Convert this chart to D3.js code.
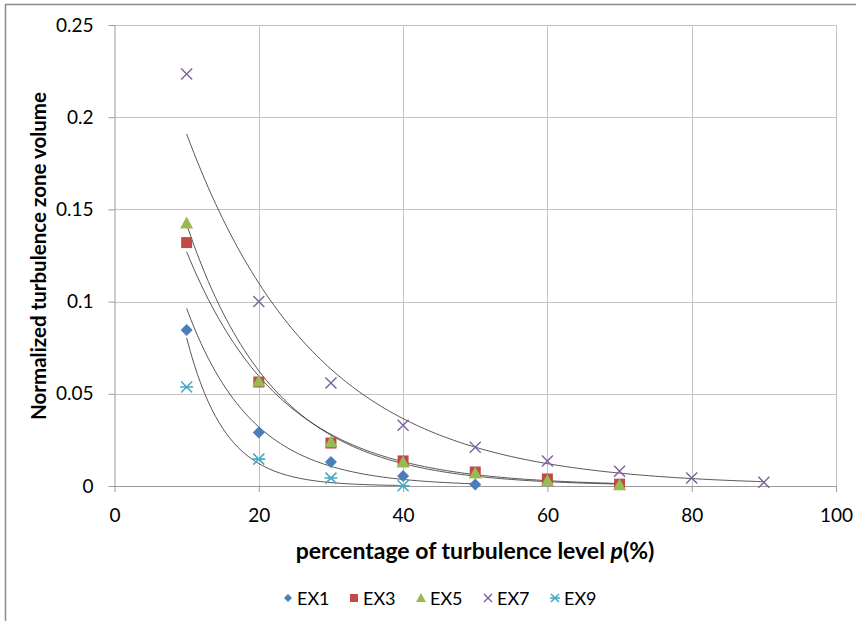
<!DOCTYPE html>
<html><head><meta charset="utf-8">
<script src="https://cdn.jsdelivr.net/npm/d3@7"></script>
<style>body{margin:0;background:#fff}svg{display:block}text{font-family:Lato,"Open Sans",sans-serif}</style>
</head><body><svg id="c" width="856" height="621"></svg>
<script>
const seriesNames = ["EX1","EX3","EX5","EX7","EX9"];
const colors = ["#4A7EBB","#BE4B48","#98B954","#7D60A0","#46AAC5"];
const ex1x = [10,20,30,40,50];
const ex1y = [0.0846,0.029,0.013,0.0054,0.0008];
const ex3x = [10,20,30,40,50,60,70];
const ex3y = [0.132,0.0564,0.0233,0.0136,0.0076,0.0038,0.001];
const ex5x = [10,20,30,40,50,60,70];
const ex5y = [0.1426,0.057,0.024,0.013,0.007,0.003,0.00073];
const ex7x = [10,20,30,40,50,60,70,80,90];
const ex7y = [0.2234,0.1,0.0559,0.033,0.021,0.0136,0.008,0.0043,0.002];
const ex9x = [10,20,30,40];
const ex9y = [0.0537,0.0146,0.0043,0.00015];
const xTicks = [0,20,40,60,80,100];
const yTicks = [0,0.05,0.1,0.15,0.2,0.25];
const yTickLabels = ["0","0.05","0.1","0.15","0.2","0.25"];

const series = [[ex1x,ex1y],[ex3x,ex3y],[ex5x,ex5y],[ex7x,ex7y],[ex9x,ex9y]].map((d,i)=>({
  name: seriesNames[i], color: colors[i], pts: d[0].map((x,j)=>({x, y:d[1][j]}))
}));

const svg = d3.select("#c");
const L=114.5, R=836, T=25, B=486;
const x = d3.scaleLinear().domain([0,100]).range([L,R]);
const y = d3.scaleLinear().domain([0,0.25]).range([B,T]);

// outer border
svg.append("path").attr("d","M5.5,621 V4.5 H856").attr("fill","none").attr("stroke","#8c8c8c").attr("stroke-width",1.5);

// gridlines
const g = svg.append("g");
g.selectAll(".vg").data(xTicks.slice(1)).enter().append("line")
  .attr("x1",d=>Math.round(x(d))+0.5).attr("x2",d=>Math.round(x(d))+0.5).attr("y1",T).attr("y2",B)
  .attr("stroke","#c4c4c4").attr("stroke-width",1);
g.selectAll(".hg").data(yTicks.slice(1)).enter().append("line")
  .attr("x1",L).attr("x2",R).attr("y1",d=>Math.round(y(d))+0.5).attr("y2",d=>Math.round(y(d))+0.5)
  .attr("stroke","#c4c4c4").attr("stroke-width",1);

// axes
const yAxis = d3.axisLeft(y).tickValues(yTicks).tickFormat((d,i)=>yTickLabels[i]).tickSize(6).tickPadding(15);
const ya = svg.append("g").attr("transform",`translate(${L},0)`).call(yAxis);
const xAxis = d3.axisBottom(x).tickValues(xTicks).tickSize(6).tickPadding(17);
const xa = svg.append("g").attr("transform",`translate(0,${B})`).call(xAxis);
[ya,xa].forEach(a=>{
  a.select(".domain").attr("stroke","#9a9a9a");
  a.selectAll(".tick line").attr("stroke","#9a9a9a");
  a.selectAll("text").attr("font-size",19).attr("fill","#000").style("font-family","Lato,'Open Sans',sans-serif");
});
ya.select(".domain").attr("d",`M0.5,${T}V${B}`);
xa.select(".domain").attr("d",`M${L},0.5H${R}`);

// trend lines (exponential least-squares fit on ln y, like a spreadsheet trendline)
function expFit(pts){
  const mx=d3.mean(pts,p=>p.x), ml=d3.mean(pts,p=>Math.log(p.y));
  let sxy=0,sxx=0; pts.forEach(p=>{sxy+=(p.x-mx)*(Math.log(p.y)-ml); sxx+=(p.x-mx)**2;});
  const b=sxy/sxx, a=ml-b*mx; return xv=>Math.exp(a+b*xv);
}
const line = d3.line().x(d=>x(d[0])).y(d=>y(d[1]));
series.forEach(s=>{
  const f=expFit(s.pts);
  const x0=d3.min(s.pts,p=>p.x), x1=d3.max(s.pts,p=>p.x);
  const xs=d3.range(x0,x1+0.001,0.5);
  svg.append("path").datum(xs.map(v=>[v,f(v)])).attr("d",line)
    .attr("fill","none").attr("stroke","#3a3a3a").attr("stroke-width",1).attr("opacity",0.85);
});

// markers
function marker(sel, i, color, s){
  if(i===0){ sel.append("path").attr("d",`M0,${-s}L${s},0L0,${s}L${-s},0Z`).attr("fill",color); }
  else if(i===1){ sel.append("rect").attr("x",-s).attr("y",-s).attr("width",2*s).attr("height",2*s).attr("fill",color); }
  else if(i===2){ sel.append("path").attr("d",`M0,${-s-1}L${s+1},${s}L${-s-1},${s}Z`).attr("fill",color); }
  else if(i===3){ sel.append("path").attr("d",`M${-s},${-s}L${s},${s}M${-s},${s}L${s},${-s}`).attr("stroke",color).attr("stroke-width",1.4).attr("fill","none"); }
  else { sel.append("path").attr("d",`M${-s},${-s}L${s},${s}M${-s},${s}L${s},${-s}M${-s-1},0L${s+1},0`).attr("stroke",color).attr("stroke-width",1.6).attr("fill","none"); }
}
const mSize=[6,5.5,5.5,5.5,5.5];
const drawOrder=[3,1,2,0,4];
drawOrder.forEach(i=>{
  const s=series[i];
  s.pts.forEach(p=>{
    const gg=svg.append("g").attr("transform",`translate(${x(p.x)},${y(p.y)})`);
    marker(gg,i,s.color,mSize[i]);
  });
});

// axis titles
svg.append("text").attr("x",475).attr("y",559).attr("text-anchor","middle")
  .attr("font-size",23).attr("font-weight","bold")
  .html('percentage of turbulence level <tspan font-style="italic">p</tspan>(%)');
svg.append("text").attr("transform",`translate(46,${256}) rotate(-90)`).attr("text-anchor","middle")
  .attr("font-size",20.5).attr("font-weight","bold").text("Normalized turbulence zone volume");

// legend
const legX=[288,354,421,488,555];
series.forEach((s,i)=>{
  const lg=svg.append("g").attr("transform",`translate(${legX[i]},598)`);
  marker(lg.append("g"),i,s.color,4);
  lg.append("text").attr("x",9).attr("y",6.5).attr("font-size",18).text(s.name);
});
</script></body></html>
